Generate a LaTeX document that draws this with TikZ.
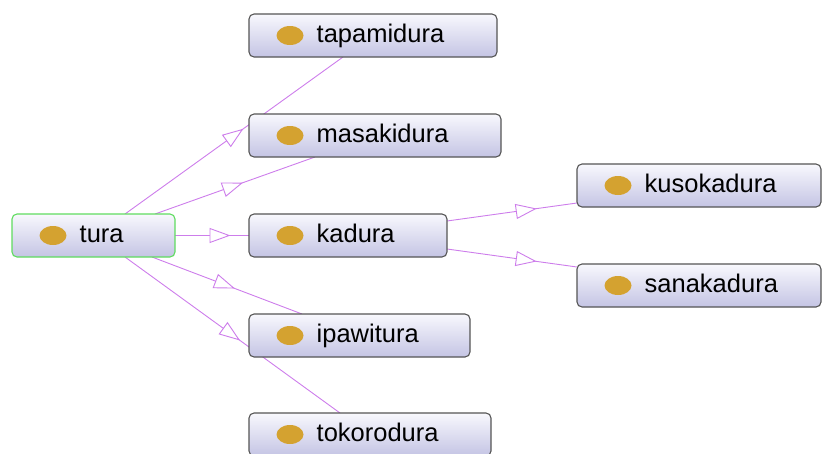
\documentclass[tikz,border=0pt]{standalone}
\usepackage{fontspec}
\setmainfont{Liberation Sans}
\usetikzlibrary{arrows.meta,decorations.markings,calc,backgrounds}

\definecolor{boxtop}{RGB}{248,248,253}
\definecolor{boxbottom}{RGB}{196,196,228}
\definecolor{boxline}{RGB}{85,85,85}
\definecolor{rootline}{RGB}{95,220,95}
\definecolor{edgecol}{RGB}{205,125,235}
\definecolor{gold}{RGB}{212,162,48}

\begin{document}
\begin{tikzpicture}[x=1pt,y=-1pt,
  cls/.style={draw=boxline, line width=1.1pt, rounded corners=5pt,
    top color=boxtop, bottom color=boxbottom,
    minimum height=43pt, anchor=north west, inner sep=0pt, outer sep=0pt},
  root/.style={cls, draw=rootline},
  lbl/.style={anchor=base west, inner sep=0pt, font=\fontsize{25.5}{30}\selectfont},
  isa/.style={draw=edgecol, line width=0.9pt,
    decoration={markings, mark=at position #1 with
      {\arrow{Triangle[length=21pt,width=15pt,fill=white,line width=0.9pt]}}},
    postaction={decorate}}
]
\useasboundingbox (0,0) rectangle (822,453);

% class boxes
\node[root, minimum width=163pt] (tura)       at (12,214)  {};
\node[cls,  minimum width=248pt] (tapamidura) at (249,14)  {};
\node[cls,  minimum width=252pt] (masakidura) at (249,114) {};
\node[cls,  minimum width=198pt] (kadura)     at (249,214) {};
\node[cls,  minimum width=244pt] (kusokadura) at (577,164) {};
\node[cls,  minimum width=244pt] (sanakadura) at (577,264) {};
\node[cls,  minimum width=221pt] (ipawitura)  at (249,314) {};
\node[cls,  minimum width=242pt] (tokorodura) at (249,413) {};

% class icon and name inside each box
\foreach \n in {tura,tapamidura,masakidura,kadura,kusokadura,sanakadura,ipawitura,tokorodura}{
  \fill[gold] ($(\n.west)+(41,0)$) ellipse (13.5pt and 9.5pt);
  \node[lbl] (\n-name) at ($(\n.west)+(67.5,7)$) {\n};
}

% subclass links, drawn behind the boxes
\begin{scope}[on background layer]
\draw[isa=0.543] ($(tura.north west)+(113,0)$) -- ($(tapamidura.south west)+(94,0)$);
\draw[isa=0.55]  ($(tura.north west)+(143,0)$) -- ($(masakidura.south west)+(66,0)$);
\draw[isa=0.75]  (tura.east) -- (kadura.west);
\draw[isa=0.553] ($(tura.south west)+(140,0)$) -- ($(ipawitura.north west)+(53,0)$);
\draw[isa=0.535] ($(tura.south west)+(113,0)$) -- ($(tokorodura.north west)+(91,0)$);
\draw[isa=0.69]  ($(kadura.east)+(0,-14.5)$) -- ($(kusokadura.south west)+(0,-4)$);
\draw[isa=0.69]  ($(kadura.east)+(0,13.5)$)  -- ($(sanakadura.north west)+(0,3)$);
\end{scope}
\end{tikzpicture}
\end{document}
